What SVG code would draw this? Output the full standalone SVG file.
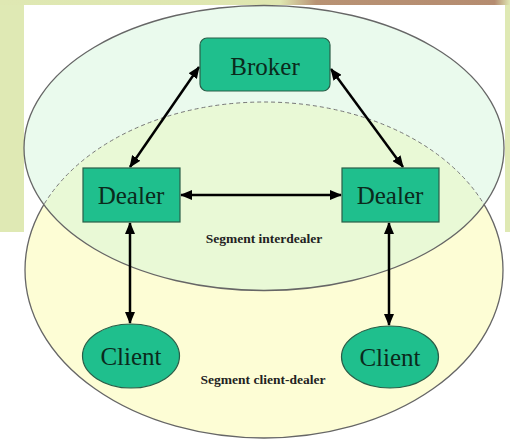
<svg xmlns="http://www.w3.org/2000/svg" width="510" height="440" viewBox="0 0 510 440">
<style>
.node{fill:#1fbf8d;stroke:#2a5e48;stroke-width:1.2}
.lbl{font-family:"Liberation Serif","Times New Roman",serif;font-size:25px;fill:#0b2a1c;text-anchor:middle}
.seg{font-family:"Liberation Serif","Times New Roman",serif;font-size:13.5px;font-weight:bold;fill:#222;text-anchor:middle}
.conn line{stroke:#000;stroke-width:2.5;marker-start:url(#ah);marker-end:url(#ah)}
</style>
<defs>
<marker id="ah" viewBox="0 0 12 10" refX="11" refY="5" markerWidth="12" markerHeight="10" markerUnits="userSpaceOnUse" orient="auto-start-reverse">
<path d="M0,0 L12,5 L0,10 Z" fill="#000"/>
</marker>
<clipPath id="inTop"><ellipse cx="264" cy="148" rx="240" ry="142.5"/></clipPath>
<mask id="outTop"><rect width="510" height="440" fill="#fff"/><ellipse cx="264" cy="148" rx="240" ry="142.5" fill="#000"/></mask>
<linearGradient id="topbg" x1="0" x2="1" y1="0" y2="0">
<stop offset="0" stop-color="#dfe8b3"/><stop offset="0.55" stop-color="#dfe6b0"/><stop offset="0.62" stop-color="#b89274"/><stop offset="0.97" stop-color="#b58c70"/><stop offset="1" stop-color="#dfe8b3"/>
</linearGradient>
</defs>
<!-- background -->
<rect width="510" height="440" fill="#fff"/>
<rect x="0" y="0" width="510" height="233" fill="#dfe9b4"/>
<rect x="0" y="0" width="510" height="5" fill="url(#topbg)"/>
<rect x="24" y="5" width="481" height="228" fill="#fff"/>
<rect x="0" y="232" width="510" height="208" fill="#fff"/>
<!-- segments -->
<g id="segment-client-dealer">
<ellipse cx="264" cy="270" rx="239" ry="168" fill="#fdfdd5"/>
</g>
<g id="segment-interdealer">
<ellipse cx="264" cy="148" rx="240" ry="142.5" fill="#d0f4d8" fill-opacity="0.45" stroke="#666" stroke-width="1.3"/>
</g>
<ellipse cx="264" cy="270" rx="239" ry="168" fill="none" stroke="#666" stroke-width="1.3" mask="url(#outTop)"/>
<ellipse cx="264" cy="270" rx="239" ry="168" fill="none" stroke="#777" stroke-width="1" stroke-dasharray="4 3" clip-path="url(#inTop)"/>
<text class="seg" x="264" y="243">Segment interdealer</text>
<text class="seg" x="263" y="384">Segment client-dealer</text>
<!-- connectors -->
<g id="connectors" class="conn">
<line x1="199" y1="67" x2="130" y2="167"/>
<line x1="331" y1="69" x2="403" y2="167"/>
<line x1="181" y1="195" x2="341" y2="195"/>
<line x1="130" y1="223" x2="130" y2="323"/>
<line x1="389" y1="223" x2="389" y2="325"/>
</g>
<!-- nodes -->
<g id="broker">
<rect class="node" x="200" y="38" width="130" height="53" rx="7"/>
<text class="lbl" x="265" y="75">Broker</text>
</g>
<g id="dealer-left">
<rect class="node" x="83" y="168" width="97" height="54"/>
<text class="lbl" x="131" y="204">Dealer</text>
</g>
<g id="dealer-right">
<rect class="node" x="342" y="168" width="97" height="54"/>
<text class="lbl" x="390" y="204">Dealer</text>
</g>
<g id="client-left">
<ellipse class="node" cx="131" cy="356" rx="48.5" ry="32"/>
<text class="lbl" x="131" y="365">Client</text>
</g>
<g id="client-right">
<ellipse class="node" cx="390" cy="357" rx="48.5" ry="31"/>
<text class="lbl" x="390" y="366">Client</text>
</g>
</svg>
